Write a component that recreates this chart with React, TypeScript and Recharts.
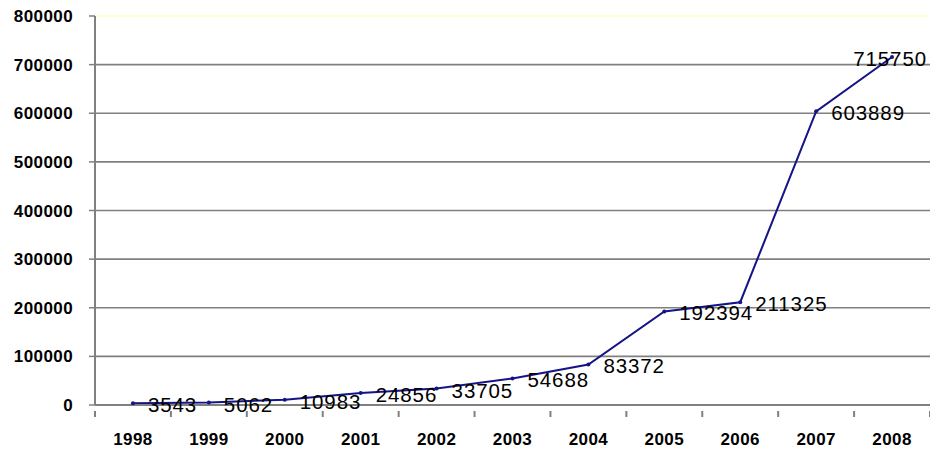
import React from "react";
import { LineChart, Line, XAxis, YAxis, CartesianGrid, LabelList } from "recharts";

const years = ["1998", "1999", "2000", "2001", "2002", "2003", "2004", "2005", "2006", "2007", "2008"];
const values = [3543, 5062, 10983, 24856, 33705, 54688, 83372, 192394, 211325, 603889, 715750];
const yTicks = [0, 100000, 200000, 300000, 400000, 500000, 600000, 700000, 800000];

const data = years.map((year, i) => ({ year, value: values[i] }));

const W = 930;
const H = 450;
const Y_AXIS_W = 95;
const PLOT_TOP = 16;
const X_AXIS_H = 45;
const BAND = (W - Y_AXIS_W) / years.length;
const FONT = "'Liberation Sans', Arial, sans-serif";
const GRAY = "#808080";
const NAVY = "#141487";

const XTick = (props: any) => {
  const { x, y, payload, index } = props;
  const left = x - BAND / 2;
  return (
    <g>
      {index === 0 && <line x1={left} y1={y - 2} x2={left} y2={y + 4} stroke={GRAY} strokeWidth={2} />}
      <line x1={left + BAND} y1={y - 2} x2={left + BAND} y2={y + 4} stroke={GRAY} strokeWidth={2} />
      <text
        x={x}
        y={y + 32}
        textAnchor="middle"
        fontFamily={FONT}
        fontWeight="bold"
        fontSize={17}
        letterSpacing={0.4}
        fill="#000"
      >
        {payload.value}
      </text>
    </g>
  );
};

const YTick = (props: any) => {
  const { y, payload } = props;
  return (
    <text
      x={73}
      y={y}
      dy={6}
      textAnchor="end"
      fontFamily={FONT}
      fontWeight="bold"
      fontSize={17}
      letterSpacing={0.4}
      fill="#000"
    >
      {payload.value}
    </text>
  );
};

const ValueLabel = (props: any) => {
  const { x, y, value, index } = props;
  const last = index === values.length - 1;
  return (
    <text
      x={last ? x + 35 : x + 15}
      y={y + 2}
      dy={7}
      textAnchor={last ? "end" : "start"}
      fontFamily={FONT}
      fontSize={20.5}
      letterSpacing={0.9}
      fill="#000"
    >
      {value}
    </text>
  );
};

const gridLine = (props: any) => {
  const { x1, x2, y1, y2, index } = props;
  const top = y1 < PLOT_TOP + 2;
  return (
    <line
      key={`g-${index}-${y1}`}
      x1={x1}
      x2={x2}
      y1={y1}
      y2={y2}
      stroke={top ? "#ffffc0" : GRAY}
      strokeWidth={top ? 1.5 : 1.6}
    />
  );
};

export default function App() {
  return (
    <div style={{ position: "absolute", left: 0, top: 0, width: W, height: H, background: "#fff" }}>
      <LineChart
        width={W}
        height={H}
        data={data}
        margin={{ top: PLOT_TOP, right: 0, bottom: 0, left: 0 }}
      >
        <CartesianGrid vertical={false} horizontal={gridLine} />
        <XAxis
          dataKey="year"
          height={X_AXIS_H}
          axisLine={{ stroke: GRAY, strokeWidth: 2 }}
          tickLine={false}
          tick={<XTick />}
          interval={0}
          padding={{ left: BAND / 2, right: BAND / 2 }}
        />
        <YAxis
          width={Y_AXIS_W}
          domain={[0, 800000]}
          ticks={yTicks}
          interval={0}
          axisLine={{ stroke: GRAY, strokeWidth: 2 }}
          tickLine={{ stroke: GRAY, strokeWidth: 1.5 }}
          tickSize={6}
          tick={<YTick />}
        />
        <Line
          type="linear"
          dataKey="value"
          stroke={NAVY}
          strokeWidth={2}
          dot={{ r: 2, fill: NAVY, stroke: NAVY, strokeWidth: 0 }}
          isAnimationActive={false}
        >
          <LabelList dataKey="value" content={<ValueLabel />} />
        </Line>
      </LineChart>
    </div>
  );
}
